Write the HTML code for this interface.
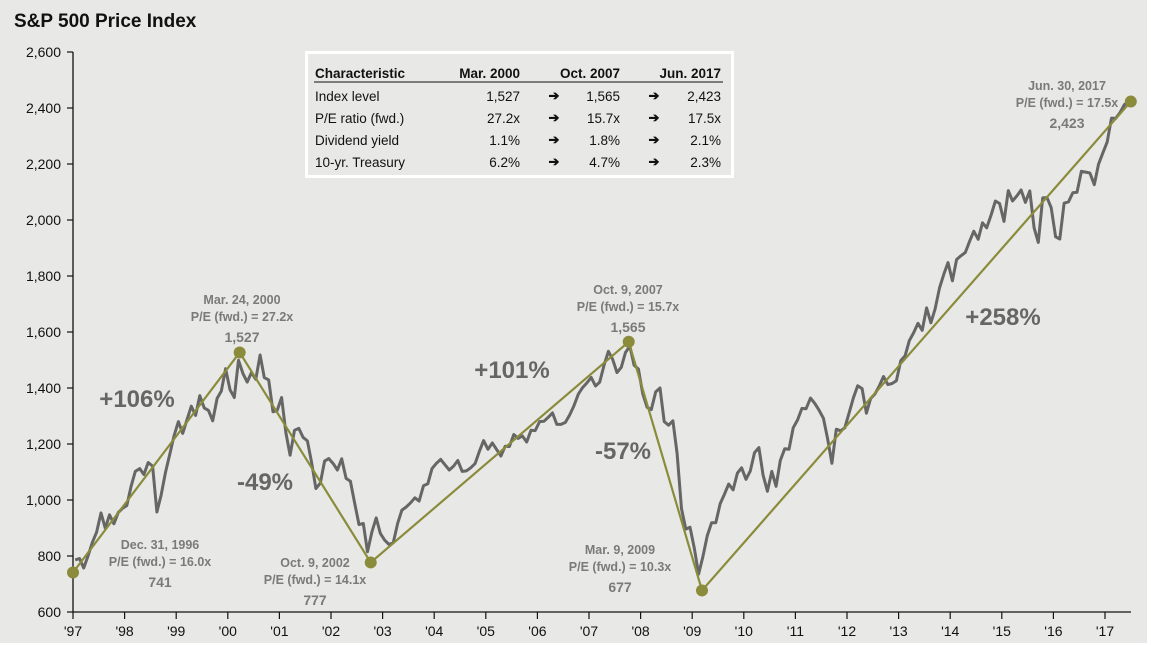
<!DOCTYPE html>
<html><head><meta charset="utf-8"><style>
body{margin:0;background:#fff;}
#wrap{position:relative;width:1147px;height:643px;background:#e8e8e6;font-family:"Liberation Sans",Arial,sans-serif;}
svg{position:absolute;left:0;top:0;}
</style></head><body>
<div id="wrap">
<svg id="chart" width="1151" height="645"></svg>
</div>
<script>
const yTicks=[600,800,1000,1200,1400,1600,1800,2000,2200,2400,2600];
const yearLabels=["'97","'98","'99","'00","'01","'02","'03","'04","'05","'06","'07","'08","'09","'10","'11","'12","'13","'14","'15","'16","'17"];
const monthlyCloses=[
786,791,757,801,848,885,954,899,947,915,955,970,
980,1049,1102,1112,1091,1134,1121,957,1017,1099,1164,1229,
1280,1238,1286,1335,1302,1373,1329,1320,1283,1363,1389,1469,
1394,1366,1499,1452,1421,1455,1431,1518,1437,1429,1315,1320,
1366,1240,1160,1249,1256,1224,1211,1134,1041,1060,1139,1148,
1130,1107,1147,1077,1067,990,912,916,815,886,936,880,
856,841,848,917,964,975,990,1008,996,1051,1058,1112,
1131,1145,1126,1107,1121,1141,1102,1104,1115,1130,1174,1212,
1181,1204,1181,1157,1192,1191,1234,1220,1229,1207,1249,1248,
1280,1281,1295,1311,1270,1270,1277,1304,1336,1378,1401,1418,
1438,1407,1421,1482,1531,1503,1455,1474,1527,1549,1481,1468,
1379,1331,1323,1386,1400,1280,1267,1283,1166,969,896,903,
826,735,798,873,919,919,987,1021,1057,1036,1096,1115,
1074,1104,1169,1187,1089,1031,1102,1049,1141,1183,1181,1258,
1286,1327,1326,1364,1345,1321,1292,1219,1131,1253,1247,1258,
1312,1366,1408,1398,1310,1362,1379,1407,1441,1412,1416,1426,
1498,1515,1569,1598,1631,1606,1686,1633,1682,1757,1806,1848,
1783,1859,1872,1884,1924,1960,1931,1990,1972,2018,2068,2059,
1995,2105,2068,2086,2107,2063,2104,1972,1920,2079,2080,2044,
1940,1932,2060,2065,2097,2099,2174,2171,2168,2126,2199,2239,
2279,2364,2363,2384,2412,2423];
const keyDates=[1997.0,2000.23,2002.77,2007.77,2009.19,2017.5];
const keyValues=[741,1527,777,1565,677,2423];

const svg=document.getElementById('chart');
const NS='http://www.w3.org/2000/svg';
const X0=73,X1=1131,YB=612,YT=52;
const xs=d=>X0+(d-1997)*51.6;
const ys=v=>YB-(v-600)*(YB-YT)/2000;
function mk(t,a,txt){const e=document.createElementNS(NS,t);for(const k in a)e.setAttribute(k,a[k]);if(txt!=null)e.textContent=txt;svg.appendChild(e);return e;}

let e=mk('text',{x:14,y:27,'font-size':19,'font-weight':'bold',fill:'#111'},'S&P 500 Price Index');



e=mk('line',{x1:X0,y1:YT,x2:X0,y2:YB,stroke:'#111','stroke-width':1.3});


e=mk('line',{x1:X0,y1:YB,x2:X1,y2:YB,stroke:'#111','stroke-width':1.3});


yTicks.forEach(v=>{
  mk('line',{x1:X0-6,y1:ys(v),x2:X0,y2:ys(v),stroke:'#111','stroke-width':1.2});
  e=mk('text',{x:X0-12,y:ys(v)+5,'font-size':14,'text-anchor':'end',fill:'#111'},v.toLocaleString('en-US'));
  
  
});
yearLabels.forEach((l,i)=>{
  const x=xs(1997+i);
  mk('line',{x1:x,y1:YB,x2:x,y2:YB+7,stroke:'#111','stroke-width':1.2});
  e=mk('text',{x:x,y:YB+24,'font-size':14,'text-anchor':'middle',fill:'#111'},l);
  
  
});

let d='';
monthlyCloses.forEach((v,i)=>{d+=(i?'L':'M')+xs(1997+(i+0.5)/12).toFixed(1)+','+ys(v).toFixed(1);});
e=mk('path',{d:d,fill:'none',stroke:'#666','stroke-width':3,'stroke-linejoin':'round'});



let d2='';
keyDates.forEach((t,i)=>{d2+=(i?'L':'M')+xs(t)+','+ys(keyValues[i]);});
e=mk('path',{d:d2,fill:'none',stroke:'#8b8b3c','stroke-width':2.2});


keyDates.forEach((t,i)=>{
  e=mk('circle',{cx:xs(t),cy:ys(keyValues[i]),r:6,fill:'#8b8b3c'});
  
  
});

function ann(cx,y,lines,name){
  lines.forEach((l,i)=>{
    const big=i===2;
    e=mk('text',{x:cx,y:y+i*(i===2?19:17),'font-size':big?14:12.5,'font-weight':'bold','text-anchor':'middle',fill:'#7a7a7a'},l);
    
    
  });
}
ann(242,304,['Mar. 24, 2000','P/E (fwd.) = 27.2x','1,527'],'annotation-mar-2000');
ann(160,549,['Dec. 31, 1996','P/E (fwd.) = 16.0x','741'],'annotation-dec-1996');
ann(315,567,['Oct. 9, 2002','P/E (fwd.) = 14.1x','777'],'annotation-oct-2002');
ann(628,294,['Oct. 9, 2007','P/E (fwd.) = 15.7x','1,565'],'annotation-oct-2007');
ann(620,554,['Mar. 9, 2009','P/E (fwd.) = 10.3x','677'],'annotation-mar-2009');
ann(1067,90,['Jun. 30, 2017','P/E (fwd.) = 17.5x','2,423'],'annotation-jun-2017');
function pct(x,y,t){e=mk('text',{x:x,y:y,'font-size':24,'font-weight':'bold','text-anchor':'middle',fill:'#666'},t);
  
  }
pct(137,407,'+106%');pct(265,490,'-49%');pct(512,378,'+101%');pct(623,459,'-57%');pct(1003,325,'+258%');

e=mk('rect',{x:306.5,y:52.5,width:426,height:124,fill:'#e8e8e6',stroke:'#fff','stroke-width':3});


const hdr=['Characteristic','Mar. 2000','Oct. 2007','Jun. 2017'];
const rows=[['Index level','1,527','1,565','2,423'],['P/E ratio (fwd.)','27.2x','15.7x','17.5x'],['Dividend yield','1.1%','1.8%','2.1%'],['10-yr. Treasury','6.2%','4.7%','2.3%']];
const colX=[315,520,620,721];
hdr.forEach((h,i)=>{e=mk('text',{x:colX[i],y:78,'font-size':13.5,'font-weight':'bold','text-anchor':i?'end':'start',fill:'#111'},h);
  
  });
mk('line',{x1:314,y1:82,x2:723,y2:82,stroke:'#111','stroke-width':1});
rows.forEach((r,j)=>{
  const y=101+j*22;
  r.forEach((c,i)=>{e=mk('text',{x:colX[i],y:y,'font-size':13.5,'text-anchor':i?'end':'start',fill:'#111'},c);
    
    });
  [554,654].forEach(ax=>{e=mk('text',{x:ax,y:y-1,'font-size':13,'font-weight':'bold','text-anchor':'middle',fill:'#111'},'➔');
    
    });
});
</script>
</body></html>
